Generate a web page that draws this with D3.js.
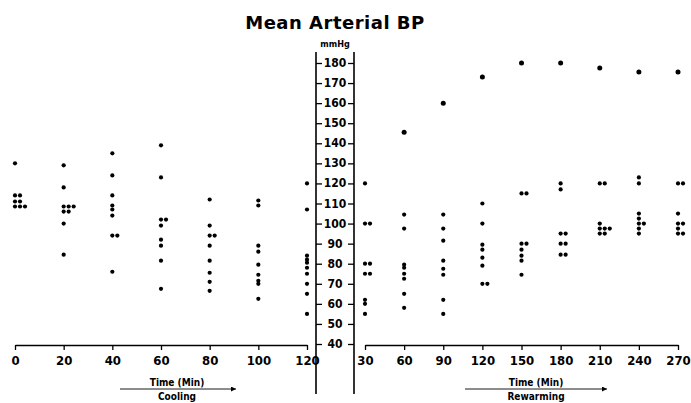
<!DOCTYPE html>
<html lang="en">
<head>
    <meta charset="UTF-8">
    <title>Mean Arterial BP</title>
    <script src="https://d3js.org/d3.v7.min.js"></script>
    <style>
        body, html {
            margin: 0;
            padding: 0;
            overflow: hidden;
            background: #fff;
        }
        svg {
            display: block;
        }
        .tick-label {
            font-family: "DejaVu Sans Condensed", "DejaVu Sans", sans-serif;
            font-weight: bold;
            font-size: 12px;
            fill: #000;
        }
        .note {
            font-family: "DejaVu Sans Condensed", "DejaVu Sans", sans-serif;
            font-weight: bold;
            font-size: 10px;
            text-anchor: middle;
        }
    </style>
</head>
<body>
    <svg width="691" height="403" id="chart"></svg>

    <script>
        // cooling phase (min) and MAP readings (mmHg)
        const coolTimes = [0, 20, 40, 60, 80, 100, 120];
        const coolValues = [
            [130, 114, 114, 111, 111, 108.5, 108.5, 108.5],
            [129, 118, 108.5, 108.5, 108.5, 106, 106, 100, 84.5],
            [135, 124, 114, 109, 107, 104, 94, 94, 76],
            [139, 123, 102, 102, 99, 92, 89, 81.5, 67.5],
            [112, 99, 94, 94, 89, 81.5, 75.5, 71, 66.5],
            [111.5, 109, 89, 86, 79.5, 74.5, 71.5, 70, 62.5],
            [120, 107, 84, 82, 80.5, 78, 75, 70, 65, 55]
        ];

        // rewarming phase
        const warmTimes = [30, 60, 90, 120, 150, 180, 210, 240, 270];
        const warmValues = [
            [120, 100, 100, 80, 80, 75, 75, 62, 60, 55],
            [145.5, 104.5, 97.5, 79.5, 78, 75, 72.5, 65, 58],
            [160, 104.5, 97.5, 91.5, 81.5, 77.5, 74.5, 62, 55],
            [173, 110, 100, 89.5, 87, 83, 79, 70, 70],
            [180, 115, 115, 90, 90, 87, 84, 81.5, 74.5],
            [180, 120, 117, 95, 95, 90, 90, 84.5, 84.5],
            [177.5, 120, 120, 100, 97.5, 97.5, 97.5, 95, 95],
            [175.5, 123, 120, 105, 102.5, 100, 100, 97.5, 95],
            [175.5, 120, 120, 105, 100, 100, 97.5, 95, 95]
        ];

        const yTicks = d3.range(40, 181, 10);

        const svg = d3.select("#chart");

        const y = d3.scaleLinear().domain([40, 180]).range([344, 63]);
        const xCool = d3.scaleLinear().domain([0, 120]).range([15, 307]);
        const xWarm = d3.scaleLinear().domain([30, 270]).range([365, 678]);

        const axisY = 345;

        // title
        svg.append("text")
            .attr("x", 335)
            .attr("y", 29)
            .attr("text-anchor", "middle")
            .style("font-family", "DejaVu Sans, sans-serif")
            .style("font-weight", "bold")
            .style("font-size", "18px")
            .style("letter-spacing", "0.5px")
            .text("Mean Arterial BP");

        svg.append("text")
            .attr("class", "note")
            .attr("x", 335)
            .attr("y", 47)
            .style("font-size", "9px")
            .text("mmHg");

        // central mmHg scale: two vertical rules with ticks facing inward
        const leftRule = 316, rightRule = 354;
        [leftRule, rightRule].forEach(xx => {
            svg.append("line")
                .attr("x1", xx).attr("x2", xx)
                .attr("y1", 52).attr("y2", 394)
                .attr("stroke", "#000")
                .attr("stroke-width", 1.6);
        });

        svg.append("g")
            .attr("transform", `translate(${leftRule},0)`)
            .call(d3.axisRight(y).tickValues(yTicks).tickSize(6).tickFormat(""))
            .call(g => g.select(".domain").remove())
            .call(g => g.selectAll("line").attr("stroke-width", 1.3));

        svg.append("g")
            .attr("transform", `translate(${rightRule},0)`)
            .call(d3.axisLeft(y).tickValues(yTicks).tickSize(6).tickFormat(""))
            .call(g => g.select(".domain").remove())
            .call(g => g.selectAll("line").attr("stroke-width", 1.3));

        svg.selectAll(".ylab")
            .data(yTicks)
            .enter()
            .append("text")
            .attr("class", "tick-label")
            .attr("x", 335)
            .attr("y", d => y(d) + 4)
            .attr("text-anchor", "middle")
            .text(d => d);

        // time axes
        function timeAxis(scale, ticks) {
            const g = svg.append("g")
                .attr("transform", `translate(0,${axisY})`)
                .call(d3.axisBottom(scale).tickValues(ticks).tickSize(5).tickSizeOuter(0).tickPadding(6));
            g.select(".domain").attr("stroke-width", 1.6);
            g.selectAll("line").attr("stroke-width", 1.3);
            g.selectAll("text")
                .attr("class", "tick-label")
                .style("font-size", "13px");
            return g;
        }
        timeAxis(xCool, coolTimes);
        timeAxis(xWarm, warmTimes);

        // dots, repeated values in one column sit side by side
        function drawDots(scale, times, values) {
            times.forEach((t, i) => {
                const seen = {};
                const pts = values[i].map(v => {
                    seen[v] = (seen[v] || 0) + 1;
                    return { v: v, k: seen[v] - 1 };
                });
                svg.append("g")
                    .selectAll("circle")
                    .data(pts)
                    .enter()
                    .append("circle")
                    .attr("cx", d => scale(t) + d.k * 5)
                    .attr("cy", d => y(d.v))
                    .attr("r", d => d.v >= 140 ? 2.5 : 2.1)
                    .attr("fill", "#000");
            });
        }
        drawDots(xCool, coolTimes, coolValues);
        drawDots(xWarm, warmTimes, warmValues);

        // phase captions with arrows
        svg.append("defs").append("marker")
            .attr("id", "arrow")
            .attr("viewBox", "0 0 10 10")
            .attr("refX", 10).attr("refY", 5)
            .attr("markerWidth", 7).attr("markerHeight", 5)
            .attr("markerUnits", "userSpaceOnUse")
            .attr("orient", "auto")
            .append("path")
            .attr("d", "M0,0 L10,5 L0,10 z")
            .attr("fill", "#000");

        function caption(x1, x2, cx, label) {
            svg.append("text").attr("class", "note").attr("x", cx).attr("y", 386).text("Time (Min)");
            svg.append("line")
                .attr("x1", x1).attr("x2", x2)
                .attr("y1", 389).attr("y2", 389)
                .attr("stroke", "#000")
                .attr("stroke-width", 0.9)
                .attr("marker-end", "url(#arrow)");
            svg.append("text").attr("class", "note").attr("x", cx).attr("y", 400).text(label);
        }
        caption(120, 236, 177, "Cooling");
        caption(465, 607, 536, "Rewarming");
    </script>
</body>
</html>
